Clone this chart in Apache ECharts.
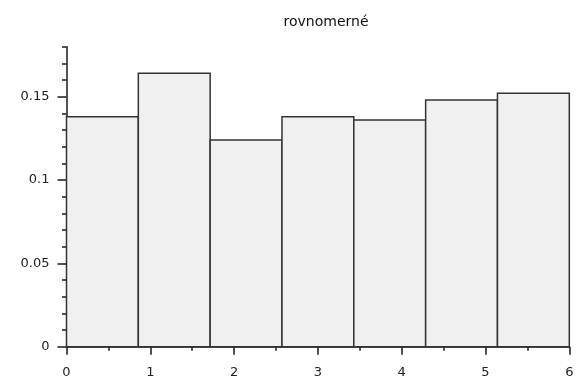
<!DOCTYPE html>
<html>
<head>
<meta charset="utf-8">
<script src="https://cdn.jsdelivr.net/npm/echarts@6/dist/echarts.min.js"></script>
<style>
  html, body { margin: 0; padding: 0; background: #ffffff; }
  #chart { width: 579px; height: 381px; }
</style>
</head>
<body>
<div id="chart"></div>
<script>
// Histogram of 500 uniform draws on [0, 6], 7 equal bins, relative frequencies
const chartTitle = 'rovnomerné';
const binRange = [0, 6];
const binFreq = [0.138, 0.164, 0.124, 0.138, 0.136, 0.148, 0.152];

// Axis ticks
const xMajorTicks = [0, 1, 2, 3, 4, 5, 6];
const xMinorTicks = [0.5, 1.5, 2.5, 3.5, 4.5, 5.5];
const yMajorTicks = [0, 0.05, 0.1, 0.15];
const yMinorTicks = [0, 0.01, 0.02, 0.03, 0.04, 0.05, 0.06, 0.07, 0.08, 0.09,
                     0.1, 0.11, 0.12, 0.13, 0.14, 0.15, 0.16, 0.17, 0.18];
const yRange = [0, 0.18];

// Bin edges from the range and bin count
const binWidth = (binRange[1] - binRange[0]) / binFreq.length;
const bins = binFreq.map((h, i) => [binRange[0] + i * binWidth, binRange[0] + (i + 1) * binWidth, h]);

const labelFont = { fontFamily: 'DejaVu Sans', fontSize: 13, color: '#222' };
const axisLineStyle = { color: '#1a1a1a', width: 1.5 };

const chart = echarts.init(document.getElementById('chart'), null, { renderer: 'canvas' });
chart.setOption({
  animation: false,
  backgroundColor: '#ffffff',
  title: {
    text: chartTitle,
    left: 321,
    top: 10,
    textAlign: 'center',
    textStyle: { fontFamily: 'DejaVu Sans', fontSize: 14, fontWeight: 'normal', color: '#111' }
  },
  grid: { left: 66.5, right: 9.7, top: 46.7, bottom: 34.3, containLabel: false },
  xAxis: [
    {
      type: 'value', min: binRange[0], max: binRange[1],
      axisLine: { show: true, onZero: false, lineStyle: axisLineStyle },
      axisTick: { show: true, length: 8, customValues: xMajorTicks, lineStyle: axisLineStyle },
      axisLabel: { show: true, customValues: xMajorTicks, margin: 19, ...labelFont },
      splitLine: { show: false }
    },
    {
      type: 'value', min: binRange[0], max: binRange[1], position: 'bottom',
      axisLine: { show: false, onZero: false },
      axisTick: { show: true, length: 4, customValues: xMinorTicks, lineStyle: axisLineStyle },
      axisLabel: { show: false },
      splitLine: { show: false }
    }
  ],
  yAxis: [
    {
      type: 'value', min: yRange[0], max: yRange[1],
      axisLine: { show: true, onZero: false, lineStyle: axisLineStyle },
      axisTick: { show: true, length: 9, customValues: yMajorTicks, lineStyle: axisLineStyle },
      axisLabel: { show: true, customValues: yMajorTicks, margin: 17, ...labelFont },
      splitLine: { show: false }
    },
    {
      type: 'value', min: yRange[0], max: yRange[1], position: 'left',
      axisLine: { show: false, onZero: false },
      axisTick: { show: true, length: 4.5, customValues: yMinorTicks, lineStyle: axisLineStyle },
      axisLabel: { show: false },
      splitLine: { show: false }
    }
  ],
  series: [{
    type: 'custom',
    xAxisIndex: 0,
    yAxisIndex: 0,
    data: bins,
    encode: { x: [0, 1], y: 2 },
    renderItem: function (params, api) {
      const p0 = api.coord([api.value(0), api.value(2)]);
      const p1 = api.coord([api.value(1), 0]);
      return {
        type: 'rect',
        shape: { x: p0[0], y: p0[1], width: p1[0] - p0[0], height: p1[1] - p0[1] },
        style: { fill: '#f0f0f0', stroke: '#333', lineWidth: 1.5 }
      };
    }
  }]
});
</script>
</body>
</html>
